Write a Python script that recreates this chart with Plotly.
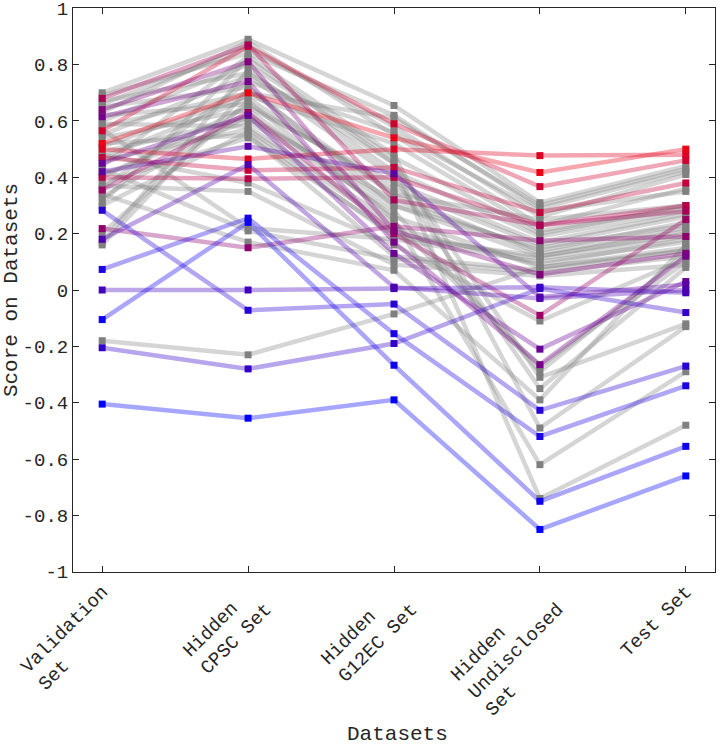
import plotly.graph_objects as go

datasets = ['Validation<br>Set', 'Hidden<br>CPSC Set', 'Hidden<br>G12EC Set',
            'Hidden<br>Undisclosed<br>Set', 'Test Set']

# gray (unranked) entries: one list per dataset, same order of teams
gray_val = [0.70, 0.69, 0.67, 0.66, 0.65, 0.63, 0.62, 0.60, 0.59, 0.58, 0.57, 0.55,
            0.54, 0.52, 0.51, 0.49, 0.48, 0.47, 0.46, 0.44, 0.43, 0.41, 0.40, 0.38,
            0.37, 0.36, 0.34, 0.33, 0.31, 0.30, 0.20, 0.17, 0.16, -0.18]
gray_cpsc = [0.89, 0.84, 0.77, 0.86, 0.72, 0.88, 0.66, 0.80, 0.58, 0.70, 0.22, 0.76,
             0.64, 0.55, 0.69, 0.61, 0.38, 0.68, 0.57, 0.83, 0.21, 0.60, 0.65, 0.54,
             0.35, 0.74, 0.17, 0.62, 0.82, 0.56, 0.67, 0.78, 0.71, -0.23]
gray_g12ec = [0.655, 0.62, 0.45, 0.58, 0.30, 0.55, 0.36, 0.47, 0.24, 0.61, 0.18, 0.40,
              0.26, 0.12, 0.52, 0.32, 0.16, 0.34, 0.22, 0.48, 0.11, 0.28, 0.38, 0.20,
              0.09, 0.56, 0.07, 0.30, 0.45, 0.19, 0.25, 0.42, 0.34, -0.085]
gray_undis = [0.31, 0.29, -0.31, 0.26, 0.12, 0.23, 0.16, 0.20, -0.27, 0.30, 0.10, -0.35,
              0.08, 0.07, 0.21, 0.14, -0.11, 0.13, 0.09, -0.49, 0.06, -0.29, 0.17, 0.11,
              0.05, 0.28, -0.39, 0.15, -0.74, 0.12, -0.62, 0.19, 0.25, 0.08]
gray_test = [0.44, 0.42, -0.12, 0.41, 0.20, 0.36, 0.26, 0.30, 0.10, 0.43, 0.17, 0.08,
             0.15, 0.14, 0.29, 0.24, 0.11, 0.22, 0.18, -0.13, 0.12, 0.13, 0.27, 0.19,
             0.09, 0.35, 0.16, 0.23, -0.48, 0.21, -0.29, 0.28, 0.30, 0.14]

# ranked entries (coloured red -> blue by test-set rank)
rank_val = [0.52, 0.50, 0.565, 0.47, 0.40, 0.68, 0.355, 0.218, 0.64, 0.615, 0.45,
            0.0, 0.42, 0.18, -0.205, 0.283, 0.073, -0.105, -0.405]
rank_cpsc = [0.70, 0.465, 0.865, 0.425, 0.395, 0.87, 0.63, 0.15, 0.81, 0.74, 0.62,
             0.0, 0.51, 0.445, -0.28, -0.072, 0.255, 0.24, -0.455]
rank_g12ec = [0.54, 0.50, 0.59, 0.435, 0.40, 0.32, 0.20, 0.226, 0.21, 0.17, 0.13,
              0.005, 0.413, 0.01, -0.19, -0.05, -0.155, -0.267, -0.39]
rank_undis = [0.417, 0.477, 0.367, 0.275, 0.23, 0.23, -0.09, 0.175, 0.055, -0.265, -0.21,
              0.01, -0.025, -0.03, 0.005, -0.427, -0.52, -0.75, -0.85]
rank_test = [0.50, 0.48, 0.46, 0.38, 0.30, 0.28, 0.25, 0.19, 0.13, 0.12, 0.03,
             -0.01, 0.02, 0.0, -0.08, -0.27, -0.34, -0.555, -0.66]

ytick_vals = [-1, -0.8, -0.6, -0.4, -0.2, 0, 0.2, 0.4, 0.6, 0.8, 1]
ytick_text = ['-1', '-0.8', '-0.6', '-0.4', '-0.2', '0', '0.2', '0.4', '0.6', '0.8', '1']

FONT = 'Liberation Mono, Courier New, monospace'
AX = '#262626'
xs = [1, 2, 3, 4, 5]


def pad_lines(label):
    # left-align lines of a multi-line tick label (monospace font)
    parts = label.split('<br>')
    width = max(len(p) for p in parts)
    return '<br>'.join(p + '\u00a0' * (width - len(p)) for p in parts)


gray_rows = list(zip(gray_val, gray_cpsc, gray_g12ec, gray_undis, gray_test))
rank_rows = list(zip(rank_val, rank_cpsc, rank_g12ec, rank_undis, rank_test))
order = sorted(range(len(rank_rows)), key=lambda i: -rank_rows[i][4])
n = len(rank_rows)


def rank_color(i):
    t = order.index(i) / (n - 1)
    return int(235 * (1 - t)), 0, int(20 + 235 * t)


fig = go.Figure()

# lines
for row in gray_rows:
    fig.add_trace(go.Scatter(x=xs, y=list(row), mode='lines',
                             line=dict(color='rgba(128,128,128,0.33)', width=4.5),
                             hoverinfo='skip', showlegend=False))
for i, row in enumerate(rank_rows):
    r, g, b = rank_color(i)
    fig.add_trace(go.Scatter(x=xs, y=list(row), mode='lines',
                             line=dict(color=f'rgba({r},{g},{b},0.35)', width=4.5),
                             hoverinfo='skip', showlegend=False))

# markers
for row in gray_rows:
    fig.add_trace(go.Scatter(x=xs, y=list(row), mode='markers',
                             marker=dict(symbol='square', size=7, color='rgb(128,128,128)',
                                         line=dict(width=0)),
                             showlegend=False))
for i, row in enumerate(rank_rows):
    r, g, b = rank_color(i)
    fig.add_trace(go.Scatter(x=xs, y=list(row), mode='markers',
                             marker=dict(symbol='square', size=7, color=f'rgb({r},{g},{b})',
                                         line=dict(width=0)),
                             showlegend=False))

fig.update_layout(
    width=719, height=747,
    margin=dict(l=73, r=4, t=8, b=175),
    plot_bgcolor='white', paper_bgcolor='white',
    font=dict(family=FONT, size=19, color=AX),
    showlegend=False,
    annotations=[dict(text='Datasets', xref='paper', yref='paper', x=0.505, y=-0.288,
                      xanchor='center', yanchor='middle', showarrow=False,
                      font=dict(size=21, family=FONT, color=AX))],
)
fig.update_xaxes(range=[0.8, 5.2], tickvals=xs,
                 ticktext=[pad_lines(d) for d in datasets],
                 tickangle=-45, showline=True, linecolor=AX, linewidth=1,
                 mirror='ticks', ticks='inside', ticklen=6, tickcolor=AX,
                 showgrid=False, zeroline=False, automargin=False,
                 ticklabeloverflow='allow')
fig.update_yaxes(range=[-1.001, 1.001], tickvals=ytick_vals, ticktext=ytick_text,
                 showline=True, linecolor=AX, linewidth=1,
                 mirror='ticks', ticks='inside', ticklen=6, tickcolor=AX,
                 showgrid=False, zeroline=False, automargin=False,
                 ticklabeloverflow='allow',
                 title=dict(text='Score on Datasets', font=dict(size=21), standoff=4))

fig.write_html('out.html', config={'displayModeBar': False},
               post_script="document.body.style.margin='0';")
